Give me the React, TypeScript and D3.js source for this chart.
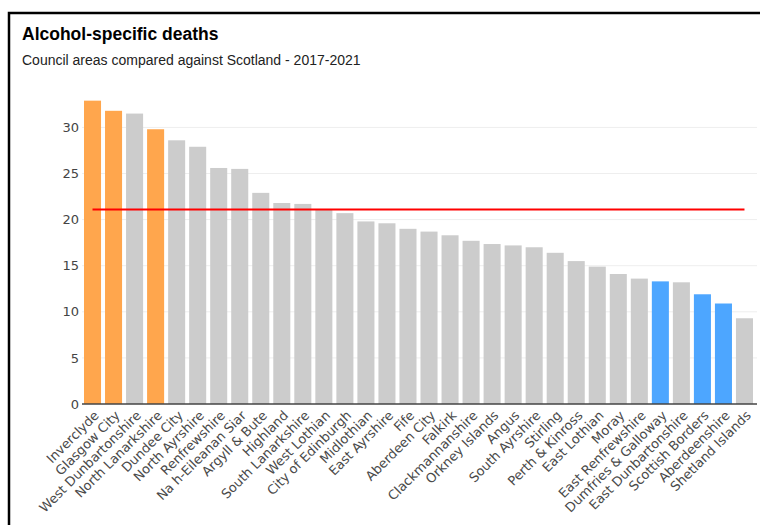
import React, { useEffect, useRef } from "react";
import * as d3 from "d3";

// council areas, sorted as in the chart
const areas = [
  "Inverclyde", "Glasgow City", "West Dunbartonshire", "North Lanarkshire",
  "Dundee City", "North Ayrshire", "Renfrewshire", "Na h-Eileanan Siar",
  "Argyll & Bute", "Highland", "South Lanarkshire", "West Lothian",
  "City of Edinburgh", "Midlothian", "East Ayrshire", "Fife",
  "Aberdeen City", "Falkirk", "Clackmannanshire", "Orkney Islands",
  "Angus", "South Ayrshire", "Stirling", "Perth & Kinross",
  "East Lothian", "Moray", "East Renfrewshire", "Dumfries & Galloway",
  "East Dunbartonshire", "Scottish Borders", "Aberdeenshire", "Shetland Islands"
];

// alcohol-specific death rate, 2017-2021
const rates = [
  32.9, 31.8, 31.5, 29.8,
  28.6, 27.9, 25.6, 25.5,
  22.9, 21.8, 21.7, 21.1,
  20.7, 19.8, 19.6, 19.0,
  18.7, 18.3, 17.7, 17.35,
  17.2, 17.0, 16.4, 15.5,
  14.9, 14.1, 13.6, 13.3,
  13.2, 11.9, 10.9, 9.3
];

// which areas are significantly higher / lower than Scotland
const higher = ["Inverclyde", "Glasgow City", "North Lanarkshire"];
const lower = ["Dumfries & Galloway", "Scottish Borders", "Aberdeenshire"];

const scotland = 21.1;
const yTicks = [0, 5, 10, 15, 20, 25, 30];

const W = 760;
const H = 525;

const Chart: React.FC = () => {
  const ref = useRef<SVGSVGElement | null>(null);

  useEffect(() => {
    const svg = d3.select(ref.current);
    svg.selectAll("*").remove();

    // frame
    svg.append("rect")
      .attr("x", 9).attr("y", 13)
      .attr("width", 800).attr("height", 600)
      .attr("fill", "#fff")
      .attr("stroke", "#000")
      .attr("stroke-width", 2.5);

    svg.append("text")
      .attr("x", 22).attr("y", 40)
      .attr("font-family", "Liberation Sans, Arial, sans-serif")
      .attr("font-weight", "bold")
      .attr("font-size", 17.5)
      .attr("fill", "#000")
      .text("Alcohol-specific deaths");

    svg.append("text")
      .attr("x", 22).attr("y", 64.5)
      .attr("font-family", "Liberation Sans, Arial, sans-serif")
      .attr("font-size", 14)
      .attr("fill", "#222")
      .text("Council areas compared against Scotland - 2017-2021");

    const x = d3.scaleBand<string>()
      .domain(areas)
      .range([82, 755])
      .paddingInner(0.19)
      .paddingOuter(0.095);

    const y = d3.scaleLinear().domain([0, 35]).range([404, 404 - 35 * 9.22]);

    // grid
    svg.append("g")
      .selectAll("line")
      .data(yTicks.filter(t => t > 0))
      .join("line")
      .attr("x1", 82).attr("x2", 757)
      .attr("y1", d => y(d)).attr("y2", d => y(d))
      .attr("stroke", "#eeeeee")
      .attr("stroke-width", 1);

    svg.append("g")
      .selectAll("text")
      .data(yTicks)
      .join("text")
      .attr("x", 79)
      .attr("y", d => y(d))
      .attr("dy", "0.36em")
      .attr("text-anchor", "end")
      .attr("font-family", "DejaVu Sans, Verdana, sans-serif")
      .attr("font-size", 13)
      .attr("fill", "#444")
      .text(d => d);

    const color = (name: string) =>
      higher.includes(name) ? "#ffa64d" : lower.includes(name) ? "#4da6ff" : "#cccccc";

    svg.append("g")
      .selectAll("rect")
      .data(areas)
      .join("rect")
      .attr("x", d => x(d)!)
      .attr("width", x.bandwidth())
      .attr("y", (d, i) => y(rates[i]))
      .attr("height", (d, i) => y(0) - y(rates[i]))
      .attr("fill", d => color(d));

    // axis line
    svg.append("line")
      .attr("x1", 82).attr("x2", 757)
      .attr("y1", y(0)).attr("y2", y(0))
      .attr("stroke", "#444")
      .attr("stroke-width", 1.5);

    // Scotland average
    const cx = (d: string) => x(d)! + x.bandwidth() / 2;
    const line = d3.line<string>().x(d => cx(d)).y(() => y(scotland));
    svg.append("path")
      .attr("d", line([areas[0], areas[areas.length - 1]]))
      .attr("stroke", "#ff0000")
      .attr("stroke-width", 2)
      .attr("fill", "none");

    svg.append("g")
      .selectAll("text")
      .data(areas)
      .join("text")
      .attr("transform", d => `translate(${cx(d) + 4},${y(0) + 9}) rotate(-45)`)
      .attr("text-anchor", "end")
      .attr("dy", "0.35em")
      .attr("font-family", "DejaVu Sans, Verdana, sans-serif")
      .attr("font-size", 13)
      .attr("fill", "#4a4a4a")
      .text(d => d);
  }, []);

  return (
    <svg
      ref={ref}
      width={W}
      height={H}
      style={{ position: "absolute", left: 0, top: 0, display: "block" }}
    />
  );
};

const App: React.FC = () => <Chart />;

export default App;
